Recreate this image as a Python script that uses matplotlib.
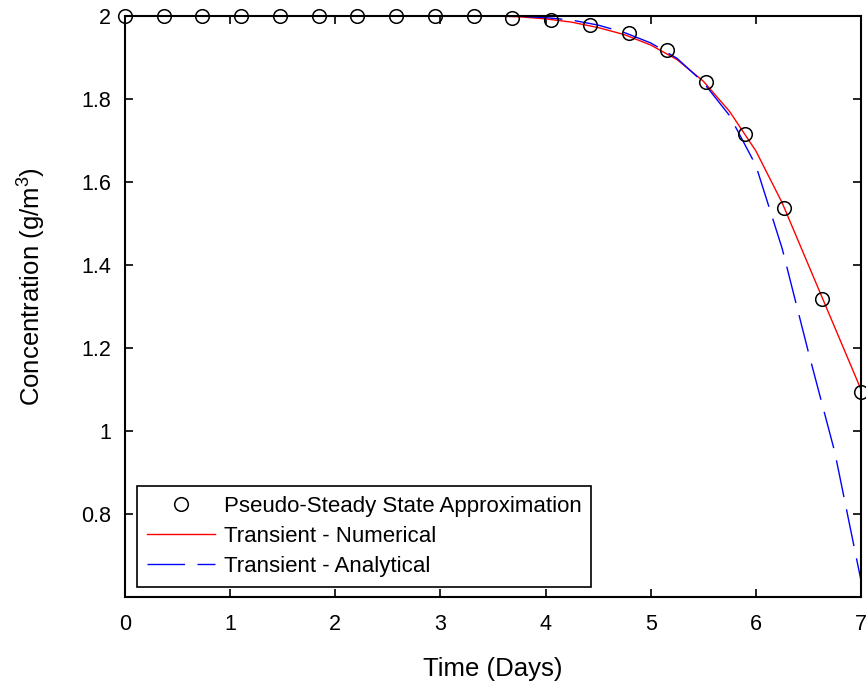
import matplotlib
matplotlib.use('Agg')
import matplotlib.pyplot as plt
import numpy as np
from matplotlib.ticker import FormatStrFormatter

plt.rcParams['font.family'] = ['Liberation Sans', 'DejaVu Sans']
plt.rcParams['mathtext.fontset'] = 'custom'
plt.rcParams['mathtext.rm'] = 'Liberation Sans'
plt.rcParams['mathtext.default'] = 'regular'

# pseudo-steady state points (20 points between 0 and 7 days)
t_pss = np.linspace(0, 7, 20)
c_pss = [2.0, 2.0, 2.0, 2.0, 2.0, 2.0, 2.0, 2.0, 2.0, 2.0,
         1.995, 1.99, 1.978, 1.958, 1.917, 1.84, 1.715, 1.537, 1.317, 1.095]

# transient curves
t_curve = [0.0, 0.5, 1.0, 1.5, 2.0, 2.5, 3.0, 3.5, 3.75, 4.0, 4.25, 4.5,
           4.75, 5.0, 5.25, 5.5, 5.75, 6.0, 6.25, 6.5, 6.75, 7.0]
c_numerical = [2.0, 2.0, 2.0, 2.0, 2.0, 2.0, 2.0, 2.0, 1.998, 1.993, 1.985, 1.972,
               1.955, 1.93, 1.895, 1.843, 1.77, 1.675, 1.55, 1.4, 1.25, 1.1]
c_analytical = [2.0, 2.0, 2.0, 2.0, 2.0, 2.0, 2.0, 2.0, 1.999, 1.996, 1.99, 1.978,
                1.96, 1.935, 1.898, 1.84, 1.76, 1.64, 1.44, 1.19, 0.95, 0.64]

x_ticks = [0, 1, 2, 3, 4, 5, 6, 7]
y_ticks = [0.8, 1.0, 1.2, 1.4, 1.6, 1.8, 2.0]

fig = plt.figure(figsize=(8.66, 6.85), dpi=100)
ax = fig.add_axes([0.1443, 0.1285, 0.8499, 0.8482])

ax.plot(t_pss, c_pss, 'o', mfc='none', mec='black', ms=9.8, mew=1.1,
        clip_on=False, label='Pseudo-Steady State Approximation', zorder=3)
ax.plot(t_curve, c_numerical, color='red', lw=1.0, label='Transient - Numerical')
ax.plot(t_curve, c_analytical, color='blue', lw=1.0, dashes=(27, 9),
        label='Transient - Analytical')

ax.set_xlim(0, 7)
ax.set_ylim(0.6, 2.0)
ax.set_xticks(x_ticks)
ax.set_yticks(y_ticks)
ax.yaxis.set_major_formatter(FormatStrFormatter('%g'))
ax.tick_params(axis='both', direction='in', length=6, width=1.2, labelsize=15.5,
               top=True, right=True)
ax.tick_params(axis='x', pad=12)
ax.tick_params(axis='y', pad=10)
for s in ax.spines.values():
    s.set_linewidth(1.5)

ax.set_xlabel('Time (Days)', fontsize=18.5, labelpad=16)
ax.set_ylabel('Concentration (g/m$^3$)', fontsize=18.5)
ax.yaxis.set_label_coords(-0.104, 0.534)

leg = ax.legend(loc='lower left', bbox_to_anchor=(0.0163, 0.0172), borderaxespad=0,
                fontsize=16, handlelength=3.05, handletextpad=0.4, fancybox=False,
                framealpha=1, edgecolor='black', labelspacing=0.4, borderpad=0.45)
leg.get_frame().set_linewidth(1.2)

fig.savefig('out.png', dpi=100)
